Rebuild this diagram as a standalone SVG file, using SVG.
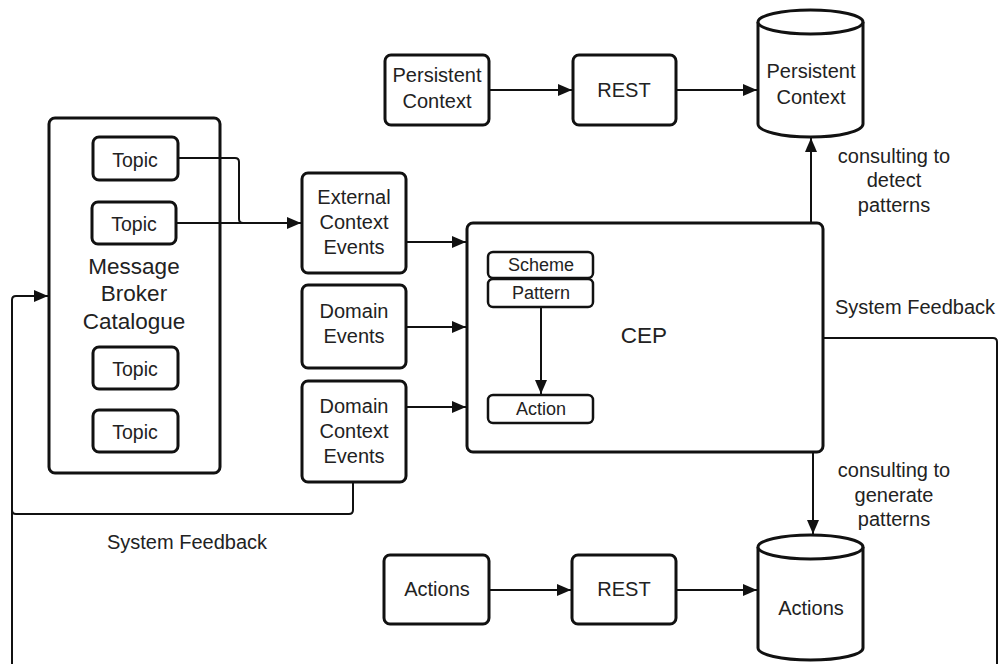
<svg xmlns="http://www.w3.org/2000/svg" width="999" height="664" viewBox="0 0 999 664">
  <style>
    .box { fill: #fff; stroke: #111; stroke-width: 3; }
    .sub { fill: #fff; stroke: #111; stroke-width: 2.5; }
    .wire { fill: none; stroke: #111; stroke-width: 2; }
    text { font-family: "Liberation Sans", Arial, sans-serif; fill: #222; text-anchor: middle; }
    .t20 { font-size: 20px; }
    .t19 { font-size: 19.5px; }
    .t18 { font-size: 18px; }
    .t22 { font-size: 22.5px; }
  </style>
  <defs>
    <marker id="arr" viewBox="0 0 14 12" refX="14" refY="6" markerWidth="14" markerHeight="12" markerUnits="userSpaceOnUse" orient="auto">
      <path d="M0,0 L14,6 L0,12 z" fill="#111"/>
    </marker>
  </defs>
  <rect width="999" height="664" fill="#fff"/>

  <g id="broker">
    <rect class="box" x="49" y="118" width="171" height="355" rx="6"/>
    <text class="t22" x="134" y="274">Message</text>
    <text class="t22" x="134" y="301">Broker</text>
    <text class="t22" x="134" y="329">Catalogue</text>
  </g>
  <g id="topic1">
    <rect class="box" x="93" y="137" width="85" height="43" rx="6"/>
    <text class="t19" x="135" y="167">Topic</text>
  </g>
  <g id="topic2">
    <rect class="box" x="92" y="202" width="84" height="42" rx="6"/>
    <text class="t19" x="134" y="231">Topic</text>
  </g>
  <g id="topic3">
    <rect class="box" x="93" y="347" width="85" height="42" rx="6"/>
    <text class="t19" x="135" y="376">Topic</text>
  </g>
  <g id="topic4">
    <rect class="box" x="93" y="410" width="85" height="42" rx="6"/>
    <text class="t19" x="135" y="439">Topic</text>
  </g>

  <g id="external-context-events">
    <rect class="box" x="302" y="173" width="104" height="100" rx="6"/>
    <text class="t20" x="354" y="204">External</text>
    <text class="t20" x="354" y="229">Context</text>
    <text class="t20" x="354" y="254">Events</text>
  </g>
  <g id="domain-events">
    <rect class="box" x="302" y="285" width="104" height="83" rx="6"/>
    <text class="t20" x="354" y="318">Domain</text>
    <text class="t20" x="354" y="343">Events</text>
  </g>
  <g id="domain-context-events">
    <rect class="box" x="302" y="381" width="104" height="101" rx="6"/>
    <text class="t20" x="354" y="413">Domain</text>
    <text class="t20" x="354" y="438">Context</text>
    <text class="t20" x="354" y="463">Events</text>
  </g>

  <g id="cep">
    <rect class="box" x="467" y="223" width="356" height="229" rx="6"/>
    <text class="t22" x="644" y="343">CEP</text>
  </g>
  <g id="scheme">
    <rect class="sub" x="488" y="252" width="105" height="26" rx="5"/>
    <text class="t18" x="541" y="271">Scheme</text>
  </g>
  <g id="pattern">
    <rect class="sub" x="488" y="279" width="105" height="28" rx="5"/>
    <text class="t18" x="541" y="299">Pattern</text>
  </g>
  <g id="action">
    <rect class="sub" x="488" y="395" width="105" height="28" rx="5"/>
    <text class="t18" x="541" y="415">Action</text>
  </g>

  <g id="persistent-context-source">
    <rect class="box" x="385" y="55" width="104" height="70" rx="6"/>
    <text class="t20" x="437" y="82">Persistent</text>
    <text class="t20" x="437" y="108">Context</text>
  </g>
  <g id="rest-top">
    <rect class="box" x="573" y="55" width="103" height="70" rx="6"/>
    <text class="t20" x="624" y="97">REST</text>
  </g>
  <g id="persistent-context-store">
    <path class="box" d="M758,22 V124 A52.5,13 0 0 0 863,124 V22"/>
    <ellipse class="box" cx="810.5" cy="22" rx="52.5" ry="12"/>
    <text class="t20" x="811" y="78">Persistent</text>
    <text class="t20" x="811" y="104">Context</text>
  </g>

  <g id="actions-source">
    <rect class="box" x="384" y="555" width="105" height="69" rx="6"/>
    <text class="t20" x="437" y="596">Actions</text>
  </g>
  <g id="rest-bottom">
    <rect class="box" x="572" y="555" width="104" height="69" rx="6"/>
    <text class="t20" x="624" y="596">REST</text>
  </g>
  <g id="actions-store">
    <path class="box" d="M758,547 V648 A52.5,12 0 0 0 863,648 V547"/>
    <ellipse class="box" cx="810.5" cy="547" rx="52.5" ry="12"/>
    <text class="t20" x="811" y="615">Actions</text>
  </g>

  <g id="connectors">
    <!-- topics to external context events -->
    <path class="wire" d="M178,158 H235 Q239,158 239,162 V219 Q239,223 243,223"/>
    <path class="wire" d="M176,223 H301" marker-end="url(#arr)"/>
    <!-- event sources into CEP -->
    <path class="wire" d="M406,242 H466" marker-end="url(#arr)"/>
    <path class="wire" d="M406,327 H466" marker-end="url(#arr)"/>
    <path class="wire" d="M406,407 H466" marker-end="url(#arr)"/>
    <!-- inside CEP: pattern to action -->
    <path class="wire" d="M541,308 V394" marker-end="url(#arr)"/>
    <!-- persistent context row -->
    <path class="wire" d="M489,90 H572" marker-end="url(#arr)"/>
    <path class="wire" d="M676,90 H757" marker-end="url(#arr)"/>
    <path class="wire" d="M811,222 V138" marker-end="url(#arr)"/>
    <!-- actions row -->
    <path class="wire" d="M813,453 V534" marker-end="url(#arr)"/>
    <path class="wire" d="M489,590 H571" marker-end="url(#arr)"/>
    <path class="wire" d="M676,590 H757" marker-end="url(#arr)"/>
    <!-- system feedback loops -->
    <path class="wire" d="M353,483 V510 Q353,514 349,514 H16 Q12,514 12,510"/>
    <path class="wire" d="M12,664 V300 Q12,296 16,296 H48" marker-end="url(#arr)"/>
    <path class="wire" d="M824,338 H993 Q997,338 997,342 V664"/>
  </g>

  <g id="labels">
    <text class="t20" x="894" y="163">consulting to</text>
    <text class="t20" x="894" y="187">detect</text>
    <text class="t20" x="894" y="212">patterns</text>
    <text class="t20" x="915" y="314">System Feedback</text>
    <text class="t20" x="894" y="477">consulting to</text>
    <text class="t20" x="894" y="502">generate</text>
    <text class="t20" x="894" y="526">patterns</text>
    <text class="t20" x="187" y="549">System Feedback</text>
  </g>
</svg>
